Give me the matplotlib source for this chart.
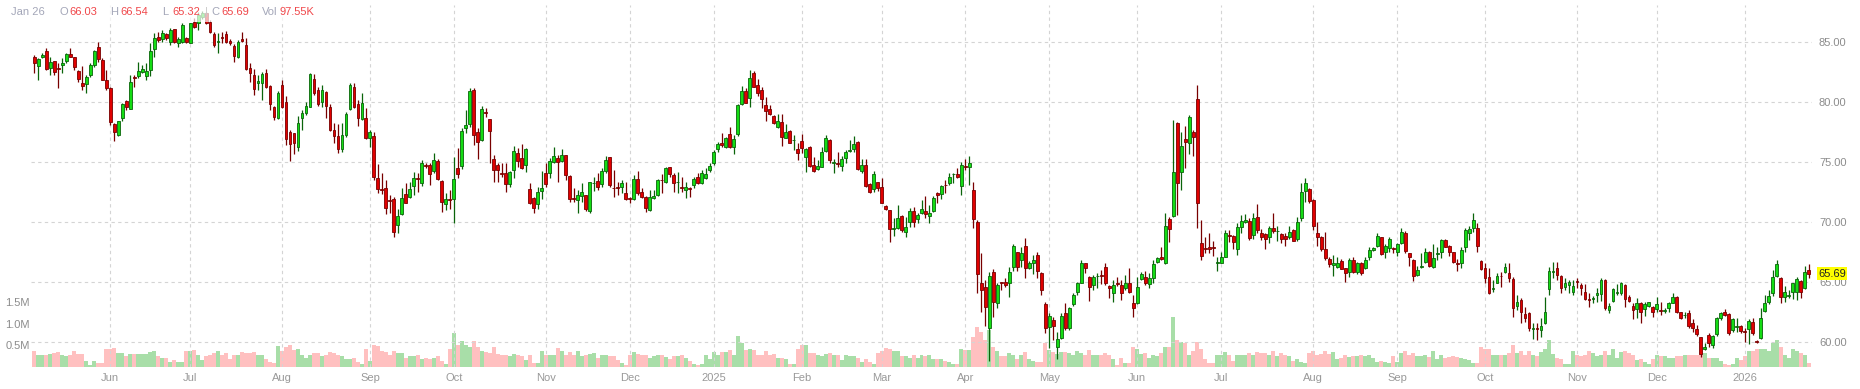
import numpy as np
import matplotlib
matplotlib.use('Agg')
import matplotlib.pyplot as plt
import matplotlib.transforms as mtransforms
from matplotlib.patches import Rectangle

plt.rcParams['font.family'] = ['Liberation Sans', 'DejaVu Sans']

# daily candles, May 2024 - Jan 26 2026
opens = [
    83.72, 83.03, 83.78, 84.22, 82.81, 83.42, 82.81, 83.06, 83.44, 84.00,
    83.75, 82.61, 81.56, 81.47, 82.22, 83.08, 84.56, 83.50, 81.83, 81.14,
    78.17, 77.28, 78.69, 80.08, 79.44, 82.08, 82.14, 82.50, 82.17, 82.64,
    84.39, 85.39, 85.25, 85.64, 85.03, 86.06, 84.94, 85.03, 85.31, 84.94,
    86.69, 86.56, 87.11, 87.39, 86.69, 85.64, 85.00, 85.40, 85.64, 85.08,
    84.69, 83.72, 85.22, 84.75, 82.81, 82.25, 81.61, 81.61, 82.39, 81.33,
    79.61, 78.64, 81.39, 79.97, 77.53, 77.39, 76.22, 78.64, 79.06, 79.61,
    81.89, 81.00, 80.03, 80.81, 79.56, 77.67, 77.17, 76.06, 77.28, 79.39,
    81.22, 79.81, 78.58, 78.64, 77.00, 77.17, 73.64, 72.78, 72.81, 71.81,
    71.89, 69.75, 70.67, 72.31, 72.11, 73.00, 73.67, 73.22, 74.72, 74.72,
    74.25, 75.11, 73.42, 71.47, 71.89, 71.89, 74.47, 74.67, 77.81, 78.14,
    81.00, 77.47, 76.83, 79.14, 78.56, 75.22, 74.75, 74.06, 74.06, 73.17,
    74.33, 75.72, 75.31, 74.75, 72.72, 71.97, 71.50, 72.58, 74.06, 74.08,
    75.03, 75.31, 75.11, 75.58, 73.83, 71.97, 71.83, 72.17, 72.25, 70.92,
    73.22, 73.42, 73.14, 74.28, 75.39, 72.86, 72.92, 72.89, 72.44, 71.97,
    71.94, 73.56, 72.47, 72.06, 71.00, 71.97, 72.25, 73.53, 73.36, 74.56,
    73.92, 73.30, 72.92, 72.67, 72.81, 73.06, 73.72, 73.22, 73.64, 74.33,
    74.94, 76.06, 76.56, 76.22, 77.31, 76.22, 77.31, 79.81, 80.92, 80.31,
    82.39, 81.42, 81.00, 79.72, 79.42, 78.83, 77.89, 78.31, 77.03, 77.58,
    76.80, 76.08, 76.75, 75.44, 76.28, 74.72, 74.39, 74.61, 75.94, 76.83,
    74.92, 74.94, 74.69, 75.31, 75.92, 76.06, 76.67, 74.25, 74.75, 73.17,
    72.72, 73.31, 72.94, 71.33, 71.00, 69.42, 69.47, 70.50, 69.14, 70.03,
    70.92, 70.22, 70.72, 70.92, 70.53, 70.94, 72.44, 72.31, 73.11, 73.28,
    73.97, 74.00, 73.00, 74.67, 74.56, 72.67, 70.03, 64.89, 64.61, 61.19,
    65.86, 63.22, 64.97, 65.00, 64.89, 66.28, 67.47, 66.83, 68.00, 66.14,
    66.61, 67.25, 65.72, 63.17, 61.28, 61.83, 59.56, 60.31, 62.44, 61.14,
    63.17, 64.14, 64.94, 66.56, 65.39, 64.72, 65.47, 65.60, 66.22, 64.67,
    64.06, 64.94, 64.72, 64.47, 64.94, 63.22, 63.22, 65.22, 65.44, 64.83,
    65.31, 66.64, 67.06, 66.61, 70.22, 70.53, 78.28, 74.19, 76.89, 76.56,
    77.47, 80.22, 68.28, 67.83, 67.89, 67.90, 66.56, 66.61, 67.11, 68.89,
    68.83, 67.72, 69.56, 69.97, 70.08, 68.89, 70.44, 69.11, 68.97, 68.78,
    69.53, 69.22, 69.00, 68.86, 68.78, 69.33, 68.56, 70.31, 72.61, 72.75,
    71.83, 69.06, 68.72, 67.75, 66.92, 66.42, 66.28, 66.78, 66.14, 65.86,
    66.83, 65.86, 66.56, 66.14, 67.06, 67.67, 68.00, 68.72, 67.47, 67.81,
    67.86, 67.47, 68.22, 69.06, 67.39, 66.83, 65.58, 66.28, 66.69, 67.53,
    66.28, 67.36, 67.53, 68.50, 68.00, 67.47, 66.60, 66.61, 67.94, 69.06,
    69.53, 69.47, 66.75, 66.14, 65.39, 64.44, 64.94, 65.53, 65.86, 65.78,
    65.22, 63.00, 63.50, 62.31, 62.39, 61.08, 61.17, 61.00, 61.61, 64.39,
    65.83, 66.14, 65.50, 64.56, 64.75, 64.14, 65.06, 64.75, 64.19, 63.60,
    63.56, 63.92, 63.97, 65.17, 62.67, 63.44, 64.06, 64.06, 64.75, 63.78,
    63.00, 62.72, 63.28, 62.72, 63.03, 62.89, 62.72, 62.64, 62.58, 62.81,
    63.28, 63.72, 62.47, 62.22, 62.39, 61.56, 61.06, 60.39, 59.39, 60.58,
    59.75, 60.64, 61.97, 62.47, 62.33, 61.00, 61.25, 61.33, 60.86, 61.06,
    61.67, 60.08, 60.31, 62.61, 63.36, 64.06, 65.50, 65.31, 63.78, 63.86,
    64.19, 64.19, 65.08, 64.47, 66.03,
]
highs = [
    83.92, 83.64, 84.06, 84.47, 83.78, 83.45, 83.22, 83.64, 84.06, 84.47,
    83.78, 82.67, 83.00, 82.25, 83.22, 84.33, 84.97, 83.64, 82.67, 81.22,
    78.28, 78.44, 79.89, 80.17, 82.22, 82.25, 83.36, 83.08, 83.22, 84.89,
    85.72, 85.81, 86.00, 85.72, 86.14, 86.08, 85.44, 86.56, 85.44, 86.61,
    86.97, 87.53, 87.60, 87.50, 86.83, 85.86, 85.72, 85.86, 85.94, 85.22,
    84.81, 85.17, 85.83, 85.31, 83.22, 82.72, 82.25, 82.53, 82.72, 81.42,
    79.67, 80.94, 81.83, 80.53, 77.67, 77.44, 78.83, 79.33, 80.03, 82.44,
    82.33, 81.22, 81.42, 80.94, 79.83, 78.22, 78.17, 78.22, 79.19, 81.61,
    81.56, 80.17, 80.72, 79.47, 77.67, 77.53, 74.83, 74.11, 73.50, 72.25,
    72.11, 71.06, 72.81, 73.22, 73.36, 74.19, 74.06, 75.17, 74.89, 74.89,
    75.78, 75.22, 73.50, 72.39, 72.67, 75.44, 76.14, 77.81, 79.33, 81.14,
    81.14, 77.81, 79.67, 79.47, 78.56, 75.58, 74.89, 74.89, 74.89, 74.28,
    76.33, 76.14, 76.47, 76.17, 73.28, 72.11, 72.94, 74.28, 74.94, 75.31,
    76.28, 75.58, 76.08, 75.60, 73.92, 72.81, 72.67, 73.22, 72.28, 73.36,
    73.78, 74.06, 74.47, 75.50, 75.44, 74.33, 73.36, 73.50, 73.36, 72.11,
    73.92, 74.25, 72.81, 72.17, 72.67, 72.67, 73.58, 74.00, 74.61, 74.61,
    74.06, 74.17, 73.78, 73.36, 72.94, 73.78, 74.06, 74.33, 74.47, 74.89,
    76.00, 76.69, 77.44, 77.11, 77.94, 77.25, 79.81, 81.33, 81.14, 82.67,
    82.61, 81.89, 81.22, 80.44, 79.75, 78.92, 79.00, 79.00, 78.17, 77.67,
    77.25, 76.56, 77.33, 76.17, 76.33, 75.44, 75.17, 76.22, 77.25, 76.89,
    75.22, 75.86, 75.50, 76.00, 76.83, 77.17, 76.78, 75.22, 75.22, 73.28,
    74.25, 73.36, 73.64, 71.42, 71.03, 70.31, 71.42, 70.58, 70.44, 71.14,
    71.28, 70.72, 71.83, 72.17, 71.42, 72.17, 72.53, 73.08, 73.50, 74.11,
    74.11, 74.47, 75.03, 75.22, 75.50, 73.36, 70.17, 67.39, 65.17, 65.86,
    66.06, 64.89, 65.03, 65.31, 66.28, 68.17, 67.53, 67.89, 68.64, 66.75,
    67.25, 67.53, 65.86, 63.36, 62.39, 62.11, 60.86, 62.39, 63.22, 62.94,
    64.06, 65.03, 66.83, 66.61, 65.50, 65.58, 65.72, 66.00, 66.61, 64.75,
    65.17, 65.39, 65.17, 65.58, 66.14, 63.92, 65.44, 65.86, 65.94, 65.72,
    66.83, 67.11, 67.94, 70.78, 70.39, 78.50, 78.36, 77.53, 78.00, 78.92,
    77.67, 81.42, 70.17, 68.72, 69.06, 68.44, 67.11, 67.47, 69.33, 69.33,
    68.92, 69.89, 70.58, 70.67, 70.31, 70.72, 71.50, 69.39, 69.06, 69.67,
    70.72, 69.67, 69.11, 69.11, 69.69, 69.39, 70.44, 73.28, 73.64, 72.81,
    71.92, 70.03, 68.83, 69.19, 67.11, 67.25, 67.11, 66.89, 66.19, 66.97,
    67.06, 66.69, 66.67, 67.11, 67.89, 67.94, 69.11, 68.78, 68.14, 68.72,
    67.94, 68.28, 69.47, 69.28, 67.39, 66.89, 66.33, 67.39, 67.81, 67.61,
    68.17, 67.89, 68.61, 68.61, 68.08, 67.53, 66.89, 67.89, 69.47, 69.67,
    70.72, 69.89, 66.83, 66.56, 66.14, 65.17, 65.72, 65.86, 66.56, 66.56,
    65.44, 63.92, 63.64, 62.94, 62.53, 61.56, 61.56, 61.97, 63.78, 66.28,
    66.69, 66.69, 65.58, 65.31, 65.17, 65.17, 65.31, 64.89, 64.83, 64.06,
    63.83, 64.47, 65.31, 65.22, 63.22, 64.47, 64.83, 65.03, 64.83, 63.92,
    63.22, 63.64, 63.36, 63.36, 63.36, 63.00, 63.78, 63.36, 62.81, 63.36,
    64.06, 63.83, 62.53, 62.53, 62.67, 61.89, 61.42, 60.44, 59.89, 60.72,
    60.58, 62.11, 62.53, 62.72, 62.39, 61.97, 61.97, 61.42, 61.14, 61.89,
    61.97, 60.17, 62.81, 63.92, 64.33, 66.00, 66.83, 65.39, 64.67, 64.33,
    64.94, 65.39, 65.17, 66.33, 66.54,
]
lows = [
    82.44, 81.83, 83.64, 82.67, 82.25, 82.25, 81.14, 82.39, 83.22, 83.75,
    82.67, 81.69, 81.00, 80.72, 82.06, 82.94, 83.36, 81.83, 81.00, 78.08,
    76.78, 77.17, 78.44, 79.33, 79.39, 81.22, 81.97, 82.39, 81.83, 82.17,
    83.78, 85.00, 85.03, 85.17, 84.75, 84.89, 84.56, 84.94, 84.94, 84.89,
    86.14, 86.00, 86.90, 86.50, 85.72, 84.61, 84.06, 84.94, 84.94, 84.75,
    83.36, 83.64, 85.03, 82.67, 81.69, 80.58, 81.00, 80.17, 81.14, 79.33,
    78.50, 78.56, 79.47, 76.42, 75.11, 75.67, 75.94, 77.67, 78.92, 79.56,
    80.58, 79.67, 79.61, 78.64, 77.58, 76.61, 75.72, 75.81, 77.06, 79.33,
    79.47, 78.00, 78.50, 76.89, 76.28, 73.50, 72.39, 72.33, 70.64, 70.72,
    68.72, 69.06, 70.58, 71.56, 72.03, 72.25, 72.53, 73.00, 74.47, 73.08,
    74.06, 73.50, 70.86, 71.00, 71.06, 69.94, 73.64, 74.39, 77.44, 77.94,
    76.42, 75.22, 76.78, 78.72, 74.89, 73.36, 73.36, 73.78, 72.53, 72.89,
    73.64, 74.61, 74.44, 74.19, 71.50, 70.78, 71.06, 71.89, 72.94, 73.64,
    74.89, 73.36, 75.03, 73.50, 71.69, 71.69, 70.78, 71.69, 70.92, 70.72,
    72.61, 72.67, 72.94, 74.06, 72.94, 72.11, 72.25, 72.44, 71.83, 71.56,
    71.83, 72.25, 71.97, 70.86, 70.94, 71.89, 72.19, 72.44, 73.22, 73.78,
    72.53, 72.44, 72.53, 72.03, 72.06, 72.81, 73.17, 73.17, 73.58, 74.19,
    74.75, 75.86, 76.28, 76.14, 76.14, 75.67, 77.17, 79.75, 79.89, 79.61,
    81.22, 80.50, 79.47, 78.44, 78.92, 78.17, 77.81, 76.33, 76.97, 76.56,
    76.00, 75.17, 75.78, 74.19, 74.56, 74.19, 74.33, 74.56, 75.86, 74.89,
    74.11, 74.61, 74.28, 74.89, 75.86, 75.86, 74.33, 74.11, 72.94, 72.44,
    72.53, 72.61, 71.56, 71.00, 68.36, 68.83, 69.39, 69.19, 68.72, 69.61,
    69.61, 69.94, 70.67, 70.31, 69.94, 70.86, 71.56, 71.89, 72.44, 73.08,
    73.28, 73.64, 72.25, 74.33, 73.08, 69.47, 64.06, 62.53, 61.33, 58.44,
    62.06, 62.81, 64.33, 64.61, 63.78, 65.94, 65.94, 66.28, 65.31, 66.06,
    65.67, 65.31, 63.92, 60.78, 59.47, 60.17, 58.56, 60.22, 61.00, 61.00,
    63.00, 63.92, 64.89, 65.72, 63.44, 64.33, 64.47, 64.83, 64.75, 63.64,
    63.36, 64.67, 63.50, 64.33, 64.06, 62.11, 63.17, 65.17, 64.75, 64.47,
    64.89, 66.56, 66.83, 66.50, 68.36, 70.44, 70.58, 72.67, 74.47, 75.67,
    75.50, 69.47, 66.83, 67.39, 67.39, 67.17, 65.94, 66.56, 67.06, 68.36,
    67.72, 67.25, 69.06, 69.89, 68.50, 68.56, 69.06, 68.50, 67.75, 68.28,
    69.06, 68.44, 68.22, 68.00, 68.56, 68.39, 68.44, 70.11, 71.69, 71.56,
    69.33, 68.00, 67.61, 66.83, 66.28, 65.50, 66.14, 66.06, 65.03, 65.44,
    65.72, 65.67, 65.58, 66.06, 66.83, 67.61, 67.94, 67.25, 66.97, 67.47,
    67.39, 67.17, 68.17, 67.39, 66.36, 65.11, 65.53, 66.14, 66.56, 66.22,
    66.19, 66.83, 66.97, 67.89, 67.17, 66.56, 65.94, 66.14, 67.53, 68.50,
    69.19, 67.53, 66.00, 64.89, 64.00, 64.19, 64.89, 64.56, 65.72, 65.03,
    62.06, 62.67, 61.56, 61.69, 60.94, 60.22, 60.17, 60.44, 61.50, 63.92,
    65.31, 65.17, 64.06, 64.33, 64.06, 63.92, 64.47, 63.92, 63.50, 62.89,
    63.22, 63.36, 63.42, 62.67, 62.39, 63.36, 63.92, 63.92, 62.89, 63.36,
    61.89, 61.97, 61.61, 62.17, 62.94, 62.11, 62.53, 62.25, 62.44, 62.53,
    63.22, 62.39, 61.89, 61.97, 61.14, 60.86, 60.50, 58.78, 59.33, 59.61,
    59.47, 60.50, 61.83, 62.17, 60.58, 60.86, 60.86, 60.72, 60.03, 59.83,
    60.58, 59.94, 60.22, 62.53, 63.17, 63.83, 65.44, 63.28, 63.36, 63.64,
    63.56, 63.50, 63.64, 64.39, 65.32,
]
closes = [
    83.22, 83.56, 83.89, 82.75, 83.33, 82.47, 82.72, 83.25, 83.97, 83.78,
    82.94, 81.94, 81.36, 82.06, 83.08, 84.22, 83.58, 81.86, 81.14, 78.36,
    77.53, 78.39, 79.81, 79.61, 81.67, 81.97, 82.58, 82.72, 82.58, 84.25,
    85.31, 85.17, 85.72, 85.31, 86.00, 85.03, 85.22, 86.42, 85.03, 86.56,
    86.28, 87.25, 87.39, 86.56, 85.81, 84.75, 85.06, 85.33, 85.03, 84.89,
    83.83, 85.03, 85.11, 82.72, 82.44, 81.06, 81.75, 82.33, 81.22, 79.83,
    78.72, 80.78, 79.56, 76.89, 76.50, 76.56, 78.28, 79.11, 79.67, 82.33,
    80.72, 79.81, 81.00, 79.69, 77.67, 77.17, 76.11, 77.25, 78.97, 81.42,
    79.56, 78.69, 79.89, 76.97, 77.47, 73.78, 72.72, 72.69, 71.14, 71.75,
    69.19, 70.53, 71.97, 71.61, 72.72, 73.64, 73.60, 74.89, 74.67, 73.97,
    75.14, 73.56, 71.64, 71.94, 71.83, 73.56, 73.97, 77.58, 78.08, 80.92,
    77.25, 76.64, 79.39, 79.06, 77.58, 74.33, 74.33, 74.00, 73.17, 74.19,
    75.94, 75.08, 74.47, 76.06, 71.56, 71.14, 72.53, 72.81, 73.14, 75.08,
    75.50, 74.97, 75.61, 73.92, 71.89, 71.92, 72.25, 72.53, 71.06, 73.31,
    73.28, 72.89, 74.25, 75.17, 73.08, 72.81, 72.86, 73.22, 71.89, 71.92,
    73.56, 72.39, 72.11, 71.14, 72.11, 72.17, 73.50, 73.47, 74.47, 74.00,
    73.22, 73.36, 72.86, 72.89, 72.72, 73.56, 73.22, 74.11, 74.00, 74.69,
    75.86, 76.50, 76.42, 77.03, 76.22, 76.89, 79.72, 80.94, 79.94, 81.97,
    81.28, 80.78, 80.22, 79.28, 79.00, 78.28, 78.44, 77.11, 77.47, 76.61,
    76.86, 75.72, 76.14, 76.11, 74.67, 74.28, 74.67, 75.83, 76.97, 75.17,
    74.97, 74.81, 75.25, 75.81, 75.97, 76.50, 74.44, 74.72, 73.03, 72.53,
    74.00, 72.86, 71.61, 71.06, 69.39, 69.50, 70.31, 69.33, 69.61, 70.94,
    69.97, 70.58, 71.06, 70.64, 70.72, 71.97, 72.25, 73.00, 73.06, 73.72,
    74.03, 73.72, 74.75, 74.58, 74.94, 70.22, 65.64, 64.33, 62.89, 65.50,
    63.36, 64.75, 64.89, 64.72, 65.81, 68.00, 66.28, 67.39, 66.14, 66.56,
    66.83, 65.92, 64.33, 61.14, 62.17, 61.33, 60.22, 62.17, 61.14, 62.81,
    63.92, 64.94, 66.61, 66.14, 64.56, 65.39, 65.53, 65.53, 64.94, 64.47,
    64.75, 64.81, 64.11, 64.89, 64.19, 62.81, 64.61, 65.64, 64.89, 65.31,
    66.47, 66.97, 66.89, 69.69, 69.39, 74.19, 73.28, 76.36, 76.69, 78.78,
    77.06, 71.56, 67.19, 67.78, 67.72, 67.82, 66.69, 67.06, 69.06, 68.81,
    68.36, 69.56, 70.11, 70.17, 68.69, 70.31, 69.33, 68.78, 68.56, 69.47,
    69.25, 69.28, 68.61, 68.56, 69.14, 68.44, 70.00, 72.47, 73.22, 71.72,
    69.69, 68.78, 67.72, 66.97, 66.50, 66.56, 66.61, 66.11, 65.72, 66.83,
    65.86, 66.56, 65.78, 66.83, 67.67, 67.81, 68.83, 67.33, 68.03, 68.58,
    67.78, 68.14, 69.14, 67.61, 67.06, 65.53, 66.00, 66.36, 67.47, 66.36,
    66.97, 67.42, 68.50, 67.94, 67.47, 66.69, 66.53, 67.67, 69.33, 69.39,
    70.17, 68.03, 66.06, 65.36, 64.11, 64.50, 65.50, 65.47, 66.28, 65.31,
    62.81, 63.31, 62.47, 61.97, 61.14, 61.17, 61.11, 61.33, 62.53, 65.94,
    65.89, 65.58, 64.47, 64.89, 64.97, 64.69, 65.00, 64.47, 63.56, 63.53,
    63.64, 64.06, 65.17, 62.81, 63.00, 64.39, 64.19, 64.89, 63.58, 63.44,
    62.67, 63.28, 62.53, 63.14, 63.31, 62.47, 63.17, 62.58, 62.64, 63.28,
    63.72, 62.53, 61.97, 62.28, 61.33, 61.14, 60.64, 58.97, 59.61, 59.89,
    60.50, 62.03, 62.39, 62.25, 60.72, 61.89, 61.31, 60.92, 60.83, 61.75,
    60.72, 60.00, 61.97, 63.28, 63.83, 65.44, 66.47, 63.78, 64.14, 63.92,
    64.89, 65.22, 64.14, 65.86, 65.69,
]
# volume in millions of shares
volumes = [
    0.37, 0.28, 0.27, 0.28, 0.30, 0.33, 0.35, 0.27, 0.26, 0.28,
    0.37, 0.31, 0.30, 0.15, 0.04, 0.15, 0.10, 0.09, 0.41, 0.42,
    0.44, 0.32, 0.32, 0.25, 0.30, 0.30, 0.30, 0.30, 0.30, 0.35,
    0.37, 0.26, 0.22, 0.22, 0.12, 0.17, 0.12, 0.12, 0.37, 0.37,
    0.40, 0.29, 0.17, 0.25, 0.27, 0.32, 0.37, 0.29, 0.32, 0.19,
    0.29, 0.29, 0.34, 0.32, 0.32, 0.34, 0.29, 0.29, 0.18, 0.12,
    0.09, 0.48, 0.37, 0.46, 0.50, 0.40, 0.41, 0.29, 0.22, 0.29,
    0.32, 0.32, 0.25, 0.29, 0.35, 0.32, 0.27, 0.25, 0.19, 0.19,
    0.22, 0.12, 0.08, 0.42, 0.15, 0.52, 0.48, 0.37, 0.35, 0.29,
    0.37, 0.32, 0.32, 0.22, 0.25, 0.25, 0.27, 0.19, 0.22, 0.19,
    0.22, 0.25, 0.14, 0.08, 0.41, 0.80, 0.50, 0.60, 0.50, 0.46,
    0.60, 0.46, 0.37, 0.35, 0.32, 0.46, 0.31, 0.29, 0.29, 0.25,
    0.31, 0.27, 0.25, 0.17, 0.29, 0.09, 0.09, 0.37, 0.29, 0.27,
    0.27, 0.44, 0.37, 0.29, 0.35, 0.29, 0.37, 0.25, 0.27, 0.31,
    0.32, 0.22, 0.27, 0.27, 0.25, 0.25, 0.17, 0.09, 0.04, 0.29,
    0.35, 0.31, 0.29, 0.27, 0.22, 0.25, 0.27, 0.29, 0.23, 0.19,
    0.25, 0.25, 0.27, 0.22, 0.15, 0.08, 0.04, 0.06, 0.29, 0.18,
    0.35, 0.29, 0.35, 0.35, 0.40, 0.27, 0.71, 0.55, 0.40, 0.42,
    0.40, 0.27, 0.29, 0.37, 0.29, 0.31, 0.22, 0.22, 0.19, 0.08,
    0.06, 0.41, 0.50, 0.52, 0.32, 0.32, 0.27, 0.25, 0.31, 0.33,
    0.27, 0.27, 0.17, 0.29, 0.25, 0.25, 0.22, 0.12, 0.18, 0.12,
    0.06, 0.32, 0.38, 0.45, 0.42, 0.36, 0.36, 0.25, 0.25, 0.22,
    0.29, 0.22, 0.29, 0.25, 0.27, 0.19, 0.19, 0.19, 0.15, 0.12,
    0.08, 0.08, 0.42, 0.40, 0.40, 0.69, 0.92, 0.81, 0.62, 0.85,
    0.46, 0.37, 0.25, 0.25, 0.32, 0.27, 0.18, 0.27, 0.35, 0.19,
    0.15, 0.12, 0.12, 0.55, 0.40, 0.35, 0.31, 0.35, 0.35, 0.32,
    0.29, 0.38, 0.32, 0.27, 0.40, 0.29, 0.29, 0.27, 0.32, 0.27,
    0.19, 0.04, 0.22, 0.09, 0.09, 0.46, 0.42, 0.31, 0.33, 0.22,
    0.29, 0.25, 0.32, 0.46, 0.46, 1.15, 0.62, 0.58, 0.55, 0.29,
    0.37, 0.59, 0.41, 0.19, 0.09, 0.09, 0.27, 0.27, 0.35, 0.29,
    0.14, 0.29, 0.29, 0.29, 0.32, 0.29, 0.35, 0.32, 0.32, 0.29,
    0.37, 0.25, 0.32, 0.27, 0.25, 0.15, 0.18, 0.12, 0.09, 0.32,
    0.38, 0.29, 0.31, 0.36, 0.31, 0.35, 0.19, 0.22, 0.27, 0.23,
    0.25, 0.25, 0.27, 0.25, 0.27, 0.22, 0.12, 0.15, 0.12, 0.09,
    0.25, 0.12, 0.32, 0.37, 0.29, 0.32, 0.25, 0.25, 0.29, 0.23,
    0.37, 0.18, 0.29, 0.22, 0.23, 0.25, 0.23, 0.22, 0.19, 0.17,
    0.09, 0.09, 0.46, 0.42, 0.42, 0.27, 0.27, 0.27, 0.29, 0.32,
    0.50, 0.32, 0.38, 0.29, 0.38, 0.29, 0.25, 0.35, 0.42, 0.63,
    0.31, 0.22, 0.19, 0.08, 0.08, 0.37, 0.27, 0.25, 0.29, 0.37,
    0.32, 0.25, 0.27, 0.37, 0.29, 0.41, 0.22, 0.35, 0.37, 0.32,
    0.29, 0.17, 0.19, 0.12, 0.06, 0.19, 0.29, 0.25, 0.25, 0.22,
    0.22, 0.25, 0.25, 0.27, 0.27, 0.29, 0.27, 0.32, 0.32, 0.22,
    0.22, 0.22, 0.15, 0.06, 0.04, 0.06, 0.22, 0.17, 0.25, 0.37,
    0.37, 0.42, 0.42, 0.42, 0.37, 0.55, 0.63, 0.46, 0.29, 0.22,
    0.42, 0.38, 0.32, 0.27, 0.09755,
]

# trading sessions per month and axis labels
month_names = ['May', 'Jun', 'Jul', 'Aug', 'Sep', 'Oct', 'Nov', 'Dec', '2025',
               'Feb', 'Mar', 'Apr', 'May', 'Jun', 'Jul', 'Aug', 'Sep', 'Oct',
               'Nov', 'Dec', '2026']
month_sessions = [19, 20, 23, 22, 21, 23, 21, 21, 22, 20, 21, 21, 22, 21, 23,
                  21, 22, 23, 20, 22, 17]
price_ticks = [60, 65, 70, 75, 80, 85]
volume_ticks = [0.5, 1.0, 1.5]
last_date = 'Jan 26'

n = len(closes)
lens = [len(opens), len(highs), len(lows), len(closes), len(volumes), sum(month_sessions)]
assert all(k == n for k in lens), lens

opens = np.array(opens)
highs = np.array(highs)
lows = np.array(lows)
closes = np.array(closes)
volumes = np.array(volumes)
x = np.arange(n)
up = closes >= opens

bull_fill, bull_edge = '#14dc14', '#0a640a'
bear_fill, bear_edge = '#e00000', '#780000'
vol_up, vol_down = '#a8dea8', '#ffc0c0'
grid_c = '#d4d4d4'
label_c = '#8c8c8c'

W, H = 1860, 389
fig = plt.figure(figsize=(W / 100, H / 100), dpi=100)
rect = [31 / W, (H - 367) / H, (1812 - 31) / W, (367 - 5) / H]

axv = fig.add_axes(rect, zorder=0)
ax = fig.add_axes(rect, zorder=1, sharex=axv)
ax.patch.set_alpha(0)

# volume panel
axv.bar(x, volumes, width=1.0, color=np.where(up, vol_up, vol_down), linewidth=0)
axv.set_ylim(0, 8.4)
axv.set_yticks(volume_ticks)
axv.set_yticklabels([f'{v:.1f}M' for v in volume_ticks])
axv.tick_params(axis='y', length=0, pad=1, labelsize=8, labelcolor=label_c)
axv.tick_params(axis='x', bottom=False, labelbottom=False)
for s in axv.spines.values():
    s.set_visible(False)

# candles
ax.vlines(x, lows, highs, colors=np.where(up, bull_edge, bear_edge), linewidth=0.9, zorder=2)
body_lo = np.minimum(opens, closes)
body_h = np.maximum(np.abs(closes - opens), 0.05)
ax.bar(x, body_h, bottom=body_lo, width=0.72,
       color=np.where(up, bull_fill, bear_fill),
       edgecolor=np.where(up, bull_edge, bear_edge), linewidth=0.6, zorder=3)

ax.set_xlim(-0.8, n - 0.2)
ax.set_ylim(57.92, 88.08)

month_pos = np.cumsum(month_sessions)[:-1]
ax.set_xticks(month_pos)
ax.set_xticklabels(month_names[1:])
ax.tick_params(axis='x', length=0, pad=4, labelsize=8, labelcolor='#999999')

ax.yaxis.tick_right()
ax.set_yticks(price_ticks)
ax.set_yticklabels([f'{p:.2f}' for p in price_ticks])
ax.tick_params(axis='y', length=0, pad=5, labelsize=8, labelcolor=label_c)
ax.grid(True, linestyle=(0, (3, 3)), color=grid_c, linewidth=0.8, zorder=0)
ax.set_axisbelow(True)
for s in ax.spines.values():
    s.set_visible(False)

# last price tag
trans = mtransforms.blended_transform_factory(ax.transAxes, ax.transData)
ax.text(1 + 6 / 1781, closes[-1], f'{closes[-1]:.2f}', transform=trans,
        ha='left', va='center', fontsize=8, color='#222222', zorder=5,
        bbox=dict(boxstyle='square,pad=0.12', fc='#ffff00', ec='none'))

# header (semi transparent strip)
fig.patches.append(Rectangle((0, 1 - 22 / H), 315 / W, 22 / H, transform=fig.transFigure,
                             facecolor='white', alpha=0.7, edgecolor='none', zorder=4))
ty = 1 - 12 / H
hdr_gray = '#a3a6b8'
hdr_red = '#f0474a'
fig.text(11 / W, ty, last_date, color=hdr_gray, fontsize=8, va='center', zorder=6)
items = [('O', opens[-1], 59), ('H', highs[-1], 110), ('L', lows[-1], 162), ('C', closes[-1], 211)]
for lab, val, px in items:
    fig.text(px / W, ty, lab, color=hdr_gray, fontsize=8, va='center', zorder=6)
    fig.text((px + 10) / W, ty, f'{val:.2f}', color=hdr_red, fontsize=8, va='center', zorder=6)
fig.text(205 / W, ty, '|', color='#c8c8c8', fontsize=8, va='center', zorder=6)
fig.text(262 / W, ty, 'Vol', color=hdr_gray, fontsize=8, va='center', zorder=6)
fig.text(279 / W, ty, f'{volumes[-1] * 1000:.2f}K', color=hdr_red, fontsize=8, va='center', zorder=6)

fig.savefig('out.png', dpi=100)
